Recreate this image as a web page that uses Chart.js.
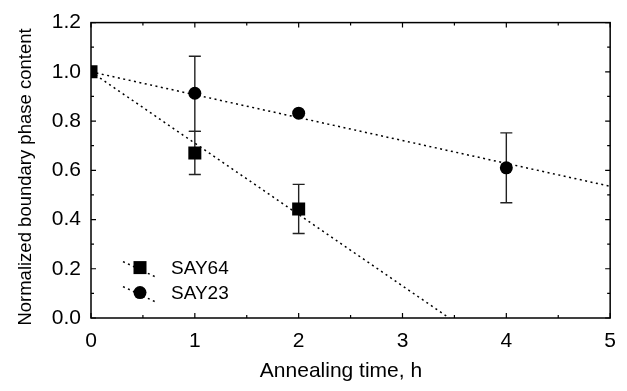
<!DOCTYPE html>
<html>
<head>
<meta charset="utf-8">
<script src="https://cdn.jsdelivr.net/npm/chart.js@4/dist/chart.umd.min.js"></script>
<style>
  html, body { margin: 0; padding: 0; background: #fff; }
  #wrap { width: 627px; height: 391px; }
</style>
</head>
<body>
<div id="wrap"><canvas id="chart" width="627" height="391"></canvas></div>
<script>
// annealing time (h) and normalized boundary phase content
const hours64 = [0, 1, 2];
const say64 = [1.0, 0.67, 0.443];
const say64Lo = [null, 0.583, 0.343];
const say64Hi = [null, 0.758, 0.543];

const hours23 = [1, 2, 4];
const say23 = [0.913, 0.832, 0.61];
const say23Lo = [0.758, null, 0.468];
const say23Hi = [1.063, null, 0.752];

// dotted fit lines (end points)
const fit64X = [0, 3.45];
const fit64Y = [1.0, 0.0];
const fit23X = [0, 5];
const fit23Y = [1.0, 0.535];

const xTicks = [0, 1, 2, 3, 4, 5];
const yTicks = [0.0, 0.2, 0.4, 0.6, 0.8, 1.0, 1.2];

const xTitle = 'Annealing time, h';
const yTitle = 'Normalized boundary phase content';

const FONT = '"Liberation Sans", Arial, Helvetica, sans-serif';
const pts = (xs, ys) => xs.map((x, i) => ({ x: x, y: ys[i] }));

const frameAndBars = {
  id: 'frameAndBars',
  beforeDatasetsDraw(chart) {
    const { ctx, chartArea: a, scales: { x, y } } = chart;
    ctx.save();
    ctx.strokeStyle = '#000';
    ctx.lineWidth = 1.5;
    ctx.strokeRect(a.left, a.top, a.right - a.left, a.bottom - a.top);

    // inward ticks, major + minor
    ctx.lineWidth = 1.2;
    ctx.beginPath();
    for (let v = 0; v <= 5.001; v += 0.5) {
      const px = x.getPixelForValue(v);
      const len = Math.abs(v - Math.round(v)) < 0.01 ? 5 : 3;
      ctx.moveTo(px, a.bottom); ctx.lineTo(px, a.bottom - len);
      ctx.moveTo(px, a.top); ctx.lineTo(px, a.top + len);
    }
    for (let k = 0; k <= 12; k++) {
      const py = y.getPixelForValue(k / 10);
      const len = k % 2 === 0 ? 5 : 3;
      ctx.moveTo(a.left, py); ctx.lineTo(a.left + len, py);
      ctx.moveTo(a.right, py); ctx.lineTo(a.right - len, py);
    }
    ctx.stroke();

    // error bars
    const bars = (xs, lo, hi) => {
      xs.forEach((xv, i) => {
        if (lo[i] == null) return;
        const px = x.getPixelForValue(xv);
        const p1 = y.getPixelForValue(lo[i]);
        const p2 = y.getPixelForValue(hi[i]);
        ctx.beginPath();
        ctx.moveTo(px, p1); ctx.lineTo(px, p2);
        ctx.moveTo(px - 6, p1); ctx.lineTo(px + 6, p1);
        ctx.moveTo(px - 6, p2); ctx.lineTo(px + 6, p2);
        ctx.stroke();
      });
    };
    ctx.strokeStyle = '#222';
    ctx.lineWidth = 1.4;
    bars(hours64, say64Lo, say64Hi);
    bars(hours23, say23Lo, say23Hi);
    ctx.restore();
  },
  afterDatasetsDraw(chart) {
    // legend inside the plot
    const { ctx, chartArea: a } = chart;
    const items = [chart.data.datasets[0], chart.data.datasets[1]];
    ctx.save();
    items.forEach((ds, i) => {
      const mx = a.left + 49;
      const my = a.top + 245 + i * 25;
      ctx.strokeStyle = '#000';
      ctx.lineWidth = 1.5;
      ctx.setLineDash([2, 3.5]);
      ctx.beginPath();
      ctx.moveTo(mx - 17, my - 6);
      ctx.lineTo(mx + 17, my + 10);
      ctx.stroke();
      ctx.setLineDash([]);
      ctx.fillStyle = '#000';
      if (ds.pointStyle === 'rect') {
        ctx.fillRect(mx - 6.5, my - 6.5, 13, 13);
      } else {
        ctx.beginPath();
        ctx.arc(mx, my, 6.5, 0, Math.PI * 2);
        ctx.fill();
      }
      ctx.font = '19px ' + FONT;
      ctx.textBaseline = 'middle';
      ctx.fillText(ds.label, a.left + 80, my + 1);
    });

    // axis titles
    ctx.fillStyle = '#000';
    ctx.textAlign = 'center';
    ctx.textBaseline = 'alphabetic';
    ctx.font = '21px ' + FONT;
    ctx.fillText(xTitle, 341, 377);
    ctx.translate(31, 177);
    ctx.rotate(-Math.PI / 2);
    ctx.font = '18.5px ' + FONT;
    ctx.fillText(yTitle, 0, 0);
    ctx.restore();
  }
};

new Chart(document.getElementById('chart'), {
  type: 'scatter',
  data: {
    datasets: [
      {
        label: 'SAY64',
        data: pts(hours64, say64),
        pointStyle: 'rect',
        pointRadius: 9.2,
        backgroundColor: '#000',
        borderColor: '#000',
        borderWidth: 0,
        clip: 0,
        order: 1
      },
      {
        label: 'SAY23',
        data: pts(hours23, say23),
        pointStyle: 'circle',
        pointRadius: 6.5,
        backgroundColor: '#000',
        borderColor: '#000',
        borderWidth: 0,
        order: 1
      },
      {
        label: 'fit64',
        data: pts(fit64X, fit64Y),
        showLine: true,
        pointRadius: 0,
        borderColor: '#000',
        borderWidth: 1.5,
        borderDash: [2, 3.5],
        order: 2
      },
      {
        label: 'fit23',
        data: pts(fit23X, fit23Y),
        showLine: true,
        pointRadius: 0,
        borderColor: '#000',
        borderWidth: 1.5,
        borderDash: [2, 3.5],
        order: 2
      }
    ]
  },
  options: {
    responsive: false,
    animation: false,
    events: [],
    layout: { padding: { top: 17, right: 15, left: 0, bottom: 0 } },
    plugins: {
      legend: { display: false },
      tooltip: { enabled: false }
    },
    scales: {
      x: {
        type: 'linear',
        min: 0,
        max: 5,
        afterBuildTicks: (s) => { s.ticks = xTicks.map(v => ({ value: v })); },
        afterFit: (s) => { s.height = 73; },
        grid: { display: false, drawTicks: false },
        border: { display: false },
        ticks: { color: '#000', padding: 11, font: { family: FONT, size: 21 } }
      },
      y: {
        type: 'linear',
        min: 0,
        max: 1.2,
        afterBuildTicks: (s) => { s.ticks = yTicks.map(v => ({ value: v })); },
        afterFit: (s) => { s.width = 91; },
        grid: { display: false, drawTicks: false },
        border: { display: false },
        ticks: {
          color: '#000',
          padding: 10,
          font: { family: FONT, size: 21 },
          callback: (v) => Number(v).toFixed(1)
        }
      }
    }
  },
  plugins: [frameAndBars]
});
</script>
</body>
</html>
